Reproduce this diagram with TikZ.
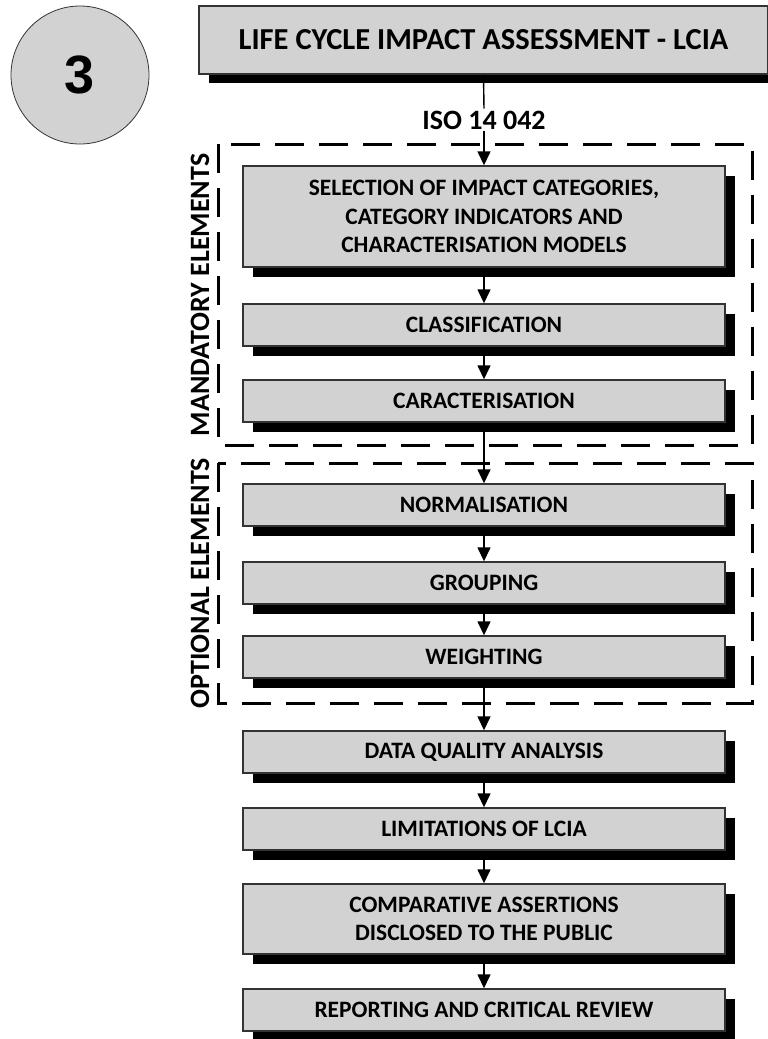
\documentclass[tikz,border=0pt]{standalone}
\usepackage{fontspec}
\setmainfont{Carlito}
\newfontfamily\numfont{Liberation Sans}
\usetikzlibrary{arrows.meta,shadows}
\definecolor{boxgray}{HTML}{D2D2D2}
\definecolor{edgegray}{HTML}{333333}
\tikzset{
  stagebox/.style={draw=edgegray, line width=1.4pt, fill=boxgray, inner sep=0pt,
    minimum width=482pt, align=center, font=\bfseries\fontsize{23.5}{28.5}\selectfont,
    drop shadow={shadow xshift=10pt, shadow yshift=-10pt, fill=black, opacity=1}},
  groupframe/.style={line width=3pt, dash pattern=on 29pt off 15pt},
  sidelabel/.style={rotate=90, font=\bfseries\fontsize{28}{32}\selectfont, inner sep=0pt},
  flow/.style={line width=1.4pt, -{Triangle[width=13pt,length=14pt]}},
  plainline/.style={line width=1.4pt}
}
\begin{document}
\begin{tikzpicture}[x=1pt,y=-1pt]
\useasboundingbox (0,0) rectangle (768,1039);

% phase number
\node[circle, draw=edgegray, line width=0.8pt, fill=boxgray, minimum size=138pt, inner sep=0pt,
  font=\numfont\bfseries\fontsize{54}{54}\selectfont] (num) at (80,75) {3};

% phase title
\node[draw=edgegray, line width=1.4pt, fill=boxgray, inner sep=0pt, minimum width=569pt,
  minimum height=68pt, font=\bfseries\fontsize{30.5}{36}\selectfont,
  drop shadow={shadow xshift=10pt, shadow yshift=-9pt, fill=black, opacity=1}]
  (title) at (483.5,40) {LIFE CYCLE IMPACT ASSESSMENT - LCIA};

\node[font=\bfseries\fontsize{28}{32}\selectfont, inner sep=2pt] (iso) at (484,120) {ISO 14 042};

% element groups
\draw[groupframe] (218,144) rectangle (752,445);
\draw[groupframe] (218,463) rectangle (752,703);
\node[sidelabel] (mand) at (200,295) {MANDATORY ELEMENTS};
\node[sidelabel] (opt) at (200,583) {OPTIONAL ELEMENTS};

% stages
\node[stagebox, minimum height=101pt] (sel) at (484,216.5)
  {SELECTION OF IMPACT CATEGORIES,\\CATEGORY INDICATORS AND\\CHARACTERISATION MODELS};
\node[stagebox, minimum height=42pt] (cls) at (484,325) {CLASSIFICATION};
\node[stagebox, minimum height=42pt] (car) at (484,401) {CARACTERISATION};
\node[stagebox, minimum height=42pt] (nor) at (484,505) {NORMALISATION};
\node[stagebox, minimum height=42pt] (grp) at (484,583) {GROUPING};
\node[stagebox, minimum height=42pt] (wgt) at (484,657) {WEIGHTING};
\node[stagebox, minimum height=42pt] (dqa) at (484,752) {DATA QUALITY ANALYSIS};
\node[stagebox, minimum height=42pt] (lim) at (484,829) {LIMITATIONS OF LCIA};
\node[stagebox, minimum height=70pt] (cmp) at (484,919)
  {COMPARATIVE ASSERTIONS\\DISCLOSED TO THE PUBLIC};
\node[stagebox, minimum height=42pt] (rep) at (484,1010) {REPORTING AND CRITICAL REVIEW};

% connectors
\draw[plainline] (title.south) -- (iso.north);
\draw[flow] (iso.south) -- (sel.north);
\draw[flow] (sel.south) -- (cls.north);
\draw[flow] (cls.south) -- (car.north);
\draw[flow] (car.south) -- (nor.north);
\draw[flow] (nor.south) -- (grp.north);
\draw[flow] (grp.south) -- (wgt.north);
\draw[flow] (wgt.south) -- (dqa.north);
\draw[flow] (dqa.south) -- (lim.north);
\draw[flow] (lim.south) -- (cmp.north);
\draw[flow] (cmp.south) -- (rep.north);
\end{tikzpicture}
\end{document}
